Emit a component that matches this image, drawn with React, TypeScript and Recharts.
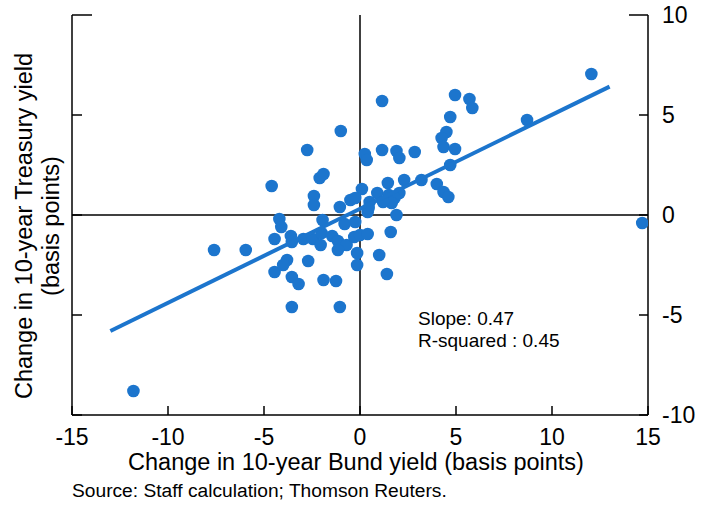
import { ScatterChart, Scatter, XAxis, YAxis, ReferenceLine, Customized } from "recharts";

const BLUE = "#1c75cd";
const FONT = "'Liberation Sans', Arial, Helvetica, sans-serif";

// change in 10-year Bund yield (bp) / change in 10-year Treasury yield (bp)
const bundChange = [
  -11.8, -7.6, -5.95, -4.6, -2.75, -1.0, 1.15, 4.95, 5.7, 5.85, 8.7, 12.05, 14.7,
  -2.1, -1.9, -2.4, -2.4, -0.5, -1.05,
  -4.2, -4.1, -4.45, -3.6, -3.55, -2.95, -2.45, -2.05, -2.0, -1.95, -1.45, -1.15, -0.7, -1.15,
  -0.8, -0.25, -0.3, -0.15, -3.8, -4.45, -4.0, -3.55, -3.2, -2.7, -1.9, -1.25, -3.55, -1.05, -0.15,
  0.4, 0.0, 0.4, 1.6, 1.0, 1.4,
  4.7, 4.5, 4.25, 4.35, 4.95, 0.25, 0.35, 1.15, 1.9, 2.05, 2.85, 4.7, 4.0, 4.35, 4.6, 3.2, 2.3,
  1.45, 0.1, 0.9, 1.5, 2.05, 1.8, 0.5, 1.65, 0.45, -0.25, 1.9, 1.2,
];
const treasuryChange = [
  -8.8, -1.75, -1.75, 1.45, 3.25, 4.2, 5.7, 6.0, 5.8, 5.35, 4.75, 7.05, -0.4,
  1.85, 2.05, 0.95, 0.5, 0.75, 0.4,
  -0.2, -0.6, -1.2, -1.05, -1.35, -1.2, -1.2, -1.5, -0.9, -0.25, -1.05, -1.3, -1.5, -1.75,
  -0.45, -0.35, -1.1, -2.5, -2.25, -2.85, -2.5, -3.1, -3.45, -2.3, -3.25, -3.3, -4.6, -4.6, -1.9,
  0.15, -1.0, -0.95, -0.85, -2.0, -2.95,
  4.9, 4.15, 3.85, 3.4, 3.3, 3.05, 2.75, 3.25, 3.2, 2.85, 3.15, 2.5, 1.55, 1.15, 0.9, 1.75, 1.75,
  1.6, 1.3, 1.1, 1.0, 1.1, 0.85, 0.65, 0.6, 0.35, 0.85, 0.0, 0.65,
];

// fitted regression line end points
const fitX = [-13, 13];
const fitY = [-5.8, 6.42];

const xTicks = [-15, -10, -5, 0, 5, 10, 15];
const yTicks = [-10, -5, 0, 5, 10];

const points = bundChange.map((x, i) => ({ x, y: treasuryChange[i] }));
const fitLine = fitX.map((x, i) => ({ x, y: fitY[i] }));

const BottomTick = ({ x, y, payload }: any) => (
  <g>
    <line x1={x} x2={x} y1={y} y2={y - 9} stroke="#000" strokeWidth={1.5} />
    <text x={x} y={y + 30} textAnchor="middle" fontSize={23} fontFamily={FONT} fill="#000">
      {payload.value}
    </text>
  </g>
);

const LeftTick = ({ x, y, payload }: any) => (
  <line x1={x} x2={x + (payload.value === 10 ? 20 : 10)} y1={y} y2={y} stroke="#000" strokeWidth={1.5} />
);

const RightTick = ({ x, y, payload }: any) => (
  <g>
    <line x1={x} x2={x - (payload.value === 10 ? 19 : 9)} y1={y} y2={y} stroke="#000" strokeWidth={1.5} />
    <text x={x + 14} y={y + 8} textAnchor="start" fontSize={23} fontFamily={FONT} fill="#000">
      {payload.value}
    </text>
  </g>
);

const YLabel = () => (
  <text transform="translate(32,226) rotate(-90)" textAnchor="middle" fontSize={23.5} fontFamily={FONT} fill="#000">
    <tspan x={0} y={0}>Change in 10-year Treasury yield</tspan>
    <tspan x={0} y={27}>(basis points)</tspan>
  </text>
);

const XLabel = () => (
  <g>
    <text x={356} y={470} textAnchor="middle" fontSize={23.5} fontFamily={FONT} fill="#000">
      Change in 10-year Bund yield (basis points)
    </text>
    <text x={72} y={497} textAnchor="start" fontSize={19.2} fontFamily={FONT} fill="#000">
      Source: Staff calculation; Thomson Reuters.
    </text>
  </g>
);

const Annotation = () => (
  <text fontSize={19} fontFamily={FONT} fill="#000">
    <tspan x={418} y={325}>Slope: 0.47</tspan>
    <tspan x={418} y={347}>R-squared : 0.45</tspan>
  </text>
);

export default function App() {
  return (
    <div style={{ position: "absolute", left: 0, top: 0, background: "#fff" }}>
      <ScatterChart width={713} height={506} margin={{ top: 15, right: 0, bottom: 0, left: 0 }}>
        <XAxis
          type="number"
          dataKey="x"
          domain={[-15, 15]}
          ticks={xTicks}
          interval={0}
          height={91}
          tickSize={0}
          tickMargin={0}
          tickLine={false}
          tick={<BottomTick />}
          axisLine={{ stroke: "#000", strokeWidth: 1.5 }}
          allowDataOverflow
          label={<XLabel />}
        />
        <YAxis
          yAxisId="left"
          type="number"
          dataKey="y"
          domain={[-10, 10]}
          ticks={yTicks}
          interval={0}
          width={72}
          tickSize={0}
          tickMargin={0}
          tickLine={false}
          tick={<LeftTick />}
          axisLine={{ stroke: "#000", strokeWidth: 1.5 }}
          allowDataOverflow
          label={<YLabel />}
        />
        <YAxis
          yAxisId="right"
          orientation="right"
          type="number"
          dataKey="y"
          domain={[-10, 10]}
          ticks={yTicks}
          interval={0}
          width={65}
          tickSize={0}
          tickMargin={0}
          tickLine={false}
          tick={<RightTick />}
          axisLine={{ stroke: "#000", strokeWidth: 1.5 }}
          allowDataOverflow
        />
        <Scatter
          yAxisId="left"
          data={points}
          fill={BLUE}
          isAnimationActive={false}
          shape={(p: any) => <circle cx={p.cx} cy={p.cy} r={6.3} fill={BLUE} />}
        />
        <Scatter
          yAxisId="left"
          data={fitLine}
          line={{ stroke: BLUE, strokeWidth: 4 }}
          isAnimationActive={false}
          shape={() => <g />}
        />
        <ReferenceLine yAxisId="left" y={0} stroke="#000" strokeWidth={1.5} />
        <ReferenceLine yAxisId="left" x={0} stroke="#000" strokeWidth={1.5} />
        <Customized component={Annotation} />
      </ScatterChart>
    </div>
  );
}
